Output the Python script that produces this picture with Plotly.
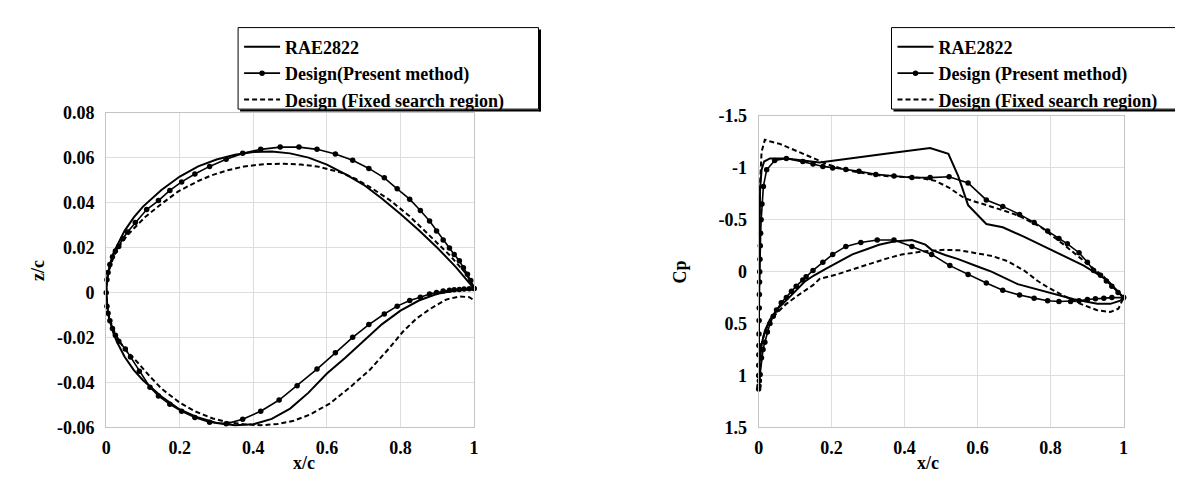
import plotly.graph_objects as go

W, H = 1183, 487

# ---------------- Left: airfoil geometry ----------------
rae_up_x = [0, 0.002, 0.005, 0.01, 0.02, 0.03, 0.05, 0.075, 0.1, 0.15, 0.2, 0.25, 0.3, 0.35, 0.4,
            0.45, 0.5, 0.55, 0.6, 0.65, 0.7, 0.75, 0.8, 0.85, 0.9, 0.95, 1.0]
rae_up_z = [0, 0.0058, 0.0090, 0.0125, 0.0178, 0.0215, 0.0275, 0.0335, 0.0383, 0.0457, 0.0517,
            0.0562, 0.0593, 0.0614, 0.0626, 0.0628, 0.0620, 0.0601, 0.0570, 0.0528, 0.0480, 0.0418,
            0.0350, 0.0278, 0.0200, 0.0115, 0.0018]
rae_lo_x = [0, 0.002, 0.005, 0.01, 0.02, 0.03, 0.05, 0.075, 0.1, 0.15, 0.2, 0.25, 0.3, 0.35, 0.4,
            0.45, 0.5, 0.55, 0.6, 0.65, 0.7, 0.75, 0.8, 0.85, 0.9, 0.95, 1.0]
rae_lo_z = [0, -0.0063, -0.0094, -0.0126, -0.0182, -0.0222, -0.0285, -0.0345, -0.0390, -0.0462,
            -0.0520, -0.0556, -0.0580, -0.0590, -0.0586, -0.0562, -0.0516, -0.0445, -0.0360,
            -0.0290, -0.0215, -0.0140, -0.0080, -0.0035, -0.0005, 0.0010, 0.0015]

des_up_x = [0, 0.002, 0.005, 0.01, 0.017, 0.025, 0.034, 0.045, 0.058, 0.079, 0.11, 0.142, 0.173,
            0.205, 0.241, 0.281, 0.326, 0.371, 0.420, 0.473, 0.524, 0.573, 0.623, 0.670, 0.714,
            0.756, 0.791, 0.825, 0.854, 0.879, 0.898, 0.916, 0.933, 0.946, 0.960, 0.971, 0.982,
            0.991, 1.0]
des_up_z = [0, 0.0058, 0.0090, 0.0125, 0.0160, 0.0185, 0.0205, 0.0240, 0.0270, 0.0312, 0.0370,
            0.0410, 0.0455, 0.0493, 0.0528, 0.0562, 0.0594, 0.0620, 0.0638, 0.0648, 0.0648, 0.0638,
            0.0617, 0.0589, 0.0553, 0.0511, 0.0462, 0.0416, 0.0366, 0.0319, 0.0274, 0.0234, 0.0199,
            0.0170, 0.0142, 0.0111, 0.0082, 0.0054, 0.0018]
des_lo_x = [0, 0.002, 0.005, 0.01, 0.017, 0.025, 0.034, 0.052, 0.066, 0.09, 0.119, 0.142, 0.173,
            0.205, 0.241, 0.281, 0.326, 0.371, 0.420, 0.470, 0.519, 0.573, 0.623, 0.670, 0.714,
            0.756, 0.791, 0.825, 0.854, 0.879, 0.898, 0.916, 0.933, 0.946, 0.960, 0.973, 0.987, 1.0]
des_lo_z = [0, -0.0060, -0.0092, -0.0125, -0.0160, -0.0190, -0.0216, -0.0251, -0.0286, -0.0350,
            -0.0421, -0.0460, -0.0497, -0.0528, -0.0556, -0.0577, -0.0584, -0.0563, -0.0528,
            -0.0478, -0.0414, -0.0340, -0.0268, -0.0199, -0.0142, -0.0095, -0.0060, -0.0035,
            -0.0020, -0.0006, 0.0001, 0.0007, 0.0011, 0.0013, 0.0014, 0.0016, 0.0017, 0.0018]

fix_up_x = [0, 0.002, 0.005, 0.01, 0.02, 0.03, 0.043, 0.06, 0.08, 0.106, 0.15, 0.196, 0.25, 0.286,
            0.33, 0.375, 0.43, 0.483, 0.53, 0.573, 0.636, 0.68, 0.717, 0.771, 0.825, 0.879, 0.933,
            0.978, 1.0]
fix_up_z = [0, 0.0055, 0.0085, 0.0115, 0.0160, 0.0192, 0.0225, 0.0260, 0.0295, 0.0337, 0.0395,
            0.0451, 0.0497, 0.0522, 0.0545, 0.0562, 0.0572, 0.0574, 0.0570, 0.0562, 0.0536, 0.0505,
            0.0470, 0.0412, 0.0340, 0.0255, 0.0168, 0.0085, 0.0025]
fix_lo_x = [0, 0.002, 0.005, 0.01, 0.02, 0.03, 0.05, 0.088, 0.12, 0.151, 0.2, 0.241, 0.29, 0.331,
            0.375, 0.42, 0.465, 0.51, 0.555, 0.609, 0.663, 0.717, 0.771, 0.807, 0.843, 0.879, 0.924,
            0.96, 0.987, 1.0]
fix_lo_z = [0, -0.0060, -0.0090, -0.0120, -0.0165, -0.0200, -0.0250, -0.0315, -0.0375, -0.0428,
            -0.0490, -0.0528, -0.0560, -0.0577, -0.0586, -0.0590, -0.0585, -0.0570, -0.0542,
            -0.0492, -0.0421, -0.0343, -0.0244, -0.0173, -0.0116, -0.0074, -0.0031, -0.0017,
            -0.0020, -0.0034]

# ---------------- Right: pressure distribution ----------------
rae_cpu_x = [0, 0.0005, 0.001, 0.002, 0.004, 0.008, 0.015, 0.031, 0.076, 0.167, 0.257, 0.348,
             0.470, 0.520, 0.547, 0.574, 0.624, 0.669, 0.728, 0.819, 0.891, 0.955, 1.0]
rae_cpu = [1.10, 0.6, 0.1, -0.4, -0.8, -0.98, -1.06, -1.09, -1.09, -1.05, -1.09, -1.135, -1.19,
           -1.135, -0.92, -0.64, -0.458, -0.427, -0.335, -0.182, -0.058, 0.08, 0.25]
rae_cpl_x = [0, 0.001, 0.003, 0.008, 0.017, 0.031, 0.049, 0.076, 0.103, 0.125, 0.15, 0.185, 0.22,
             0.257, 0.30, 0.33, 0.37, 0.42, 0.457, 0.474, 0.511, 0.547, 0.60, 0.638, 0.71, 0.801,
             0.864, 0.928, 0.964, 0.991, 1.0]
rae_cpl = [1.10, 1.0, 0.85, 0.70, 0.57, 0.46, 0.37, 0.27, 0.18, 0.10, 0.04, -0.03, -0.10, -0.166,
           -0.22, -0.258, -0.29, -0.305, -0.26, -0.21, -0.16, -0.12, -0.05, 0.0, 0.12, 0.203,
           0.265, 0.31, 0.31, 0.28, 0.25]

des_cpu_x = [0, 0.0002, 0.0004, 0.0006, 0.0008, 0.001, 0.0013, 0.0016, 0.002, 0.0025, 0.003,
             0.0037, 0.0045, 0.0055, 0.007, 0.009, 0.013, 0.022, 0.044, 0.076, 0.121, 0.149, 0.176,
             0.203, 0.239, 0.275, 0.321, 0.371, 0.420, 0.470, 0.522, 0.574, 0.624, 0.669, 0.715,
             0.755, 0.792, 0.823, 0.846, 0.878, 0.901, 0.918, 0.937, 0.953, 0.968, 0.985, 1.0]
des_cpu = [1.13, 1.0, 0.90, 0.80, 0.71, 0.60, 0.47, 0.35, 0.22, 0.10, 0.0, -0.12, -0.25, -0.37,
           -0.50, -0.65, -0.82, -0.98, -1.07, -1.09, -1.059, -1.037, -1.013, -0.997, -0.982,
           -0.967, -0.936, -0.92, -0.905, -0.905, -0.914, -0.853, -0.69, -0.628, -0.551, -0.474,
           -0.39, -0.32, -0.268, -0.182, -0.09, -0.012, 0.034, 0.09, 0.14, 0.2, 0.25]
des_cpl_x = [0, 0.001, 0.002, 0.004, 0.008, 0.012, 0.017, 0.024, 0.031, 0.04, 0.049, 0.062, 0.076,
             0.09, 0.103, 0.121, 0.130, 0.149, 0.176, 0.203, 0.239, 0.280, 0.325, 0.371, 0.420,
             0.474, 0.524, 0.574, 0.624, 0.669, 0.715, 0.755, 0.792, 0.823, 0.855, 0.878, 0.901,
             0.923, 0.946, 0.968, 1.0]
des_cpl = [1.13, 1.10, 1.05, 0.99, 0.83, 0.75, 0.68, 0.58, 0.50, 0.43, 0.37, 0.30, 0.25, 0.19,
           0.14, 0.08, 0.05, -0.012, -0.09, -0.166, -0.243, -0.28, -0.305, -0.305, -0.243,
           -0.166, -0.058, 0.028, 0.11, 0.18, 0.225, 0.255, 0.28, 0.287, 0.287, 0.28, 0.268,
           0.26, 0.255, 0.25, 0.25]

fix_cpu_x = [0, 0.0005, 0.001, 0.002, 0.004, 0.008, 0.017, 0.03, 0.058, 0.09, 0.121, 0.155, 0.185,
             0.22, 0.257, 0.30, 0.348, 0.40, 0.438, 0.484, 0.520, 0.565, 0.624, 0.67, 0.715, 0.774,
             0.837, 0.891, 0.946, 1.0]
fix_cpu = [1.10, 0.6, 0.1, -0.4, -0.85, -1.15, -1.27, -1.255, -1.23, -1.185, -1.135, -1.085,
           -1.037, -1.0, -0.966, -0.94, -0.92, -0.91, -0.905, -0.874, -0.812, -0.705, -0.643,
           -0.59, -0.535, -0.427, -0.258, -0.104, 0.05, 0.25]
fix_cpl_x = [0, 0.001, 0.003, 0.008, 0.017, 0.031, 0.049, 0.076, 0.103, 0.125, 0.149, 0.167, 0.212,
             0.26, 0.303, 0.35, 0.393, 0.457, 0.511, 0.55, 0.592, 0.64, 0.683, 0.728, 0.765, 0.792,
             0.837, 0.882, 0.928, 0.964, 0.986, 1.0]
fix_cpl = [1.10, 1.0, 0.85, 0.70, 0.58, 0.48, 0.40, 0.31, 0.24, 0.19, 0.13, 0.07, 0.03, -0.025,
           -0.074, -0.125, -0.166, -0.197, -0.21, -0.205, -0.18, -0.15, -0.10, -0.01, 0.09, 0.15,
           0.234, 0.31, 0.372, 0.388, 0.357, 0.25]

x_ticks = [0, 0.2, 0.4, 0.6, 0.8, 1.0]
x_ticktext = ["0", "0.2", "0.4", "0.6", "0.8", "1"]
z_ticks = [-0.06, -0.04, -0.02, 0, 0.02, 0.04, 0.06, 0.08]
z_ticktext = ["-0.06", "-0.04", "-0.02", "0", "0.02", "0.04", "0.06", "0.08"]
cp_ticks = [-1.5, -1, -0.5, 0, 0.5, 1, 1.5]
cp_ticktext = ["-1.5", "-1", "-0.5", "0", "0.5", "1", "1.5"]

names_left = ["RAE2822", "Design(Present method)", "Design (Fixed search region)"]
names_right = ["RAE2822", "Design (Present method)", "Design (Fixed search region)"]


def loop(ux, uz, lx, lz):
    return list(reversed(ux)) + lx[1:], list(reversed(uz)) + lz[1:]


FONT = "Liberation Serif"
solid = dict(color="black", width=2)
dotl = dict(color="black", width=1.6)
dashl = dict(color="black", width=2, dash="5px,3px")
mk = dict(size=5.5, color="black")

fig = go.Figure()

xx, yy = loop(rae_up_x, rae_up_z, rae_lo_x, rae_lo_z)
fig.add_trace(go.Scatter(x=xx, y=yy, mode="lines", line=solid, name=names_left[0],
                         xaxis="x", yaxis="y", legend="legend", cliponaxis=False))
xx, yy = loop(des_up_x, des_up_z, des_lo_x, des_lo_z)
fig.add_trace(go.Scatter(x=xx, y=yy, mode="lines+markers", line=dotl, marker=mk, name=names_left[1],
                         xaxis="x", yaxis="y", legend="legend", cliponaxis=False))
xx, yy = loop(fix_up_x, fix_up_z, fix_lo_x, fix_lo_z)
fig.add_trace(go.Scatter(x=xx, y=yy, mode="lines", line=dashl, name=names_left[2],
                         xaxis="x", yaxis="y", legend="legend", cliponaxis=False))

xx, yy = loop(rae_cpu_x, rae_cpu, rae_cpl_x, rae_cpl)
fig.add_trace(go.Scatter(x=xx, y=yy, mode="lines", line=solid, name=names_right[0],
                         xaxis="x2", yaxis="y2", legend="legend2", cliponaxis=False))
xx, yy = loop(des_cpu_x, des_cpu, des_cpl_x, des_cpl)
fig.add_trace(go.Scatter(x=xx, y=yy, mode="lines+markers", line=dotl, marker=mk, name=names_right[1],
                         xaxis="x2", yaxis="y2", legend="legend2", cliponaxis=False))
xx, yy = loop(fix_cpu_x, fix_cpu, fix_cpl_x, fix_cpl)
fig.add_trace(go.Scatter(x=xx, y=yy, mode="lines", line=dashl, name=names_right[2],
                         xaxis="x2", yaxis="y2", legend="legend2", cliponaxis=False))


def pxx(v):
    return v / W


def pyy(v):
    return 1 - v / H


axis_common = dict(showgrid=True, gridcolor="#dedede", gridwidth=1, zeroline=False,
                   showline=True, linecolor="#c4c4c4", linewidth=1, mirror=True, ticks="",
                   tickfont=dict(family=FONT, size=18, color="black", weight="bold"))

fig.update_layout(
    width=W, height=H, margin=dict(l=0, r=0, t=0, b=0),
    paper_bgcolor="white", plot_bgcolor="white",
    font=dict(family=FONT, size=18, color="black", weight="bold"),
    xaxis=dict(domain=[pxx(94), pxx(465)], range=[0, 1], tickvals=x_ticks, ticktext=x_ticktext,
               anchor="y", ticklabelstandoff=4, **axis_common),
    yaxis=dict(domain=[pyy(427), pyy(99)], range=[-0.06, 0.08], tickvals=z_ticks,
               ticktext=z_ticktext, anchor="x", ticklabelstandoff=7, **axis_common),
    xaxis2=dict(domain=[pxx(752), pxx(1120)], range=[0, 1], tickvals=x_ticks,
                ticktext=x_ticktext, anchor="y2", ticklabelstandoff=4, **axis_common),
    yaxis2=dict(domain=[pyy(427), pyy(102)], range=[1.5, -1.5], tickvals=cp_ticks,
                ticktext=cp_ticktext, anchor="x2", ticklabelstandoff=7, **axis_common),
    legend=dict(x=pxx(228), y=pyy(11), xanchor="left", yanchor="top", bgcolor="rgba(0,0,0,0)",
                borderwidth=0, font=dict(family=FONT, size=18, color="black", weight="bold"),
                itemwidth=36, tracegroupgap=0),
    legend2=dict(x=pxx(887), y=pyy(11), xanchor="left", yanchor="top", bgcolor="rgba(0,0,0,0)",
                 borderwidth=0, font=dict(family=FONT, size=18, color="black", weight="bold"),
                 itemwidth=36, tracegroupgap=0),
    showlegend=True,
)

# legend boxes with a slight shadow
for (l, r) in [(227, 530), (886, 1195)]:
    fig.add_shape(type="rect", xref="paper", yref="paper", x0=pxx(l), x1=pxx(r), y0=pyy(95),
                  y1=pyy(10), line=dict(color="black", width=1), fillcolor="rgba(0,0,0,0)")
    fig.add_shape(type="line", xref="paper", yref="paper", x0=pxx(l + 2), x1=pxx(r + 2),
                  y0=pyy(96.5), y1=pyy(96.5), line=dict(color="black", width=2))
    fig.add_shape(type="line", xref="paper", yref="paper", x0=pxx(r + 1.5), x1=pxx(r + 1.5),
                  y0=pyy(12), y1=pyy(97.5), line=dict(color="black", width=2))

ann = dict(xref="paper", yref="paper", showarrow=False,
           font=dict(family=FONT, size=18, color="black", weight="bold"))
fig.add_annotation(text="z/c", x=pxx(13), y=pyy(263), textangle=-90, **ann)
fig.add_annotation(text="x/c", x=pxx(280), y=pyy(477), **ann)
fig.add_annotation(text="Cp", x=pxx(673), y=pyy(265), textangle=-90, **ann)
fig.add_annotation(text="x/c", x=pxx(936), y=pyy(477), **ann)

fig.write_html("out.html")
